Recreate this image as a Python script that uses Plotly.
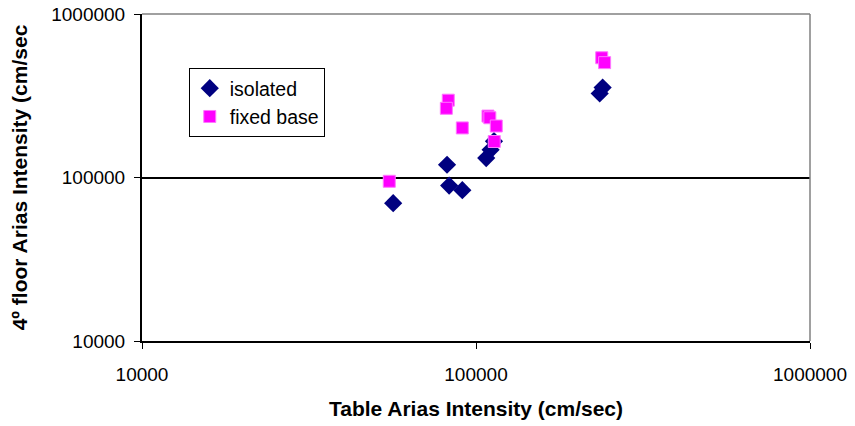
import plotly.graph_objects as go

iso_x = [81900, 83100, 91000, 56500, 107300, 110600, 113200, 234600, 239400]
iso_y = [119700, 89200, 83600, 69700, 131400, 147600, 166700, 326400, 354800]

fix_x = [82600, 81500, 91000, 108600, 110000, 115000, 113400, 55000, 237900, 242700]
fix_y = [297000, 265000, 201000, 237500, 232000, 206500, 166000, 94800, 540000, 504000]

ticks = [10000, 100000, 1000000]
tick_text = ["10000", "100000", "1000000"]

FAM = "Liberation Sans, Arial, sans-serif"

fig = go.Figure()
fig.add_trace(go.Scatter(
    x=iso_x, y=iso_y, mode="markers", name="isolated",
    marker=dict(symbol="diamond", size=14, color="#000080",
                line=dict(color="#000080", width=0))))
fig.add_trace(go.Scatter(
    x=fix_x, y=fix_y, mode="markers", name="fixed base",
    marker=dict(symbol="square", size=12, color="#FF00FF",
                line=dict(color="#FF77FF", width=1))))

font = dict(family=FAM, size=19, color="black")

fig.update_layout(
    width=855, height=426,
    margin=dict(l=142, r=45, t=14, b=85),
    paper_bgcolor="white", plot_bgcolor="white",
    font=font,
    showlegend=True,
    legend=dict(x=0.07, y=0.835, xanchor="left", yanchor="top",
                bordercolor="black", borderwidth=1, bgcolor="white",
                font=dict(family=FAM, size=19.5, color="black"),
                itemwidth=30, tracegroupgap=4),
    xaxis=dict(type="log", range=[4, 6], tickvals=ticks, ticktext=tick_text,
               showgrid=False, showline=True, linecolor="black", linewidth=2,
               ticks="outside", ticklen=6, tickcolor="black", mirror=False,
               zeroline=False, tickfont=font, automargin=False,
               ticklabelstandoff=9,
               title=dict(text="<b>Table Arias Intensity (cm/sec)</b>",
                          font=dict(family=FAM, size=21),
                          standoff=18)),
    yaxis=dict(type="log", range=[4, 6], tickvals=ticks, ticktext=tick_text,
               showgrid=True, gridcolor="black", gridwidth=1.5,
               showline=True, linecolor="black", linewidth=2,
               ticks="outside", ticklen=6, tickcolor="black",
               zeroline=False, tickfont=font, automargin=False,
               ticklabelstandoff=5,
               title=dict(text="<b>4º floor Arias Intensity (cm/sec</b>",
                          font=dict(family=FAM, size=21),
                          standoff=18)),
)

# top and right border (gray)
fig.add_shape(type="line", xref="paper", yref="paper", x0=0, x1=1, y0=1, y1=1,
              line=dict(color="#808080", width=1.5))
fig.add_shape(type="line", xref="paper", yref="paper", x0=1, x1=1, y0=0, y1=1,
              line=dict(color="#808080", width=1.5))

fig.write_html("out.html")
